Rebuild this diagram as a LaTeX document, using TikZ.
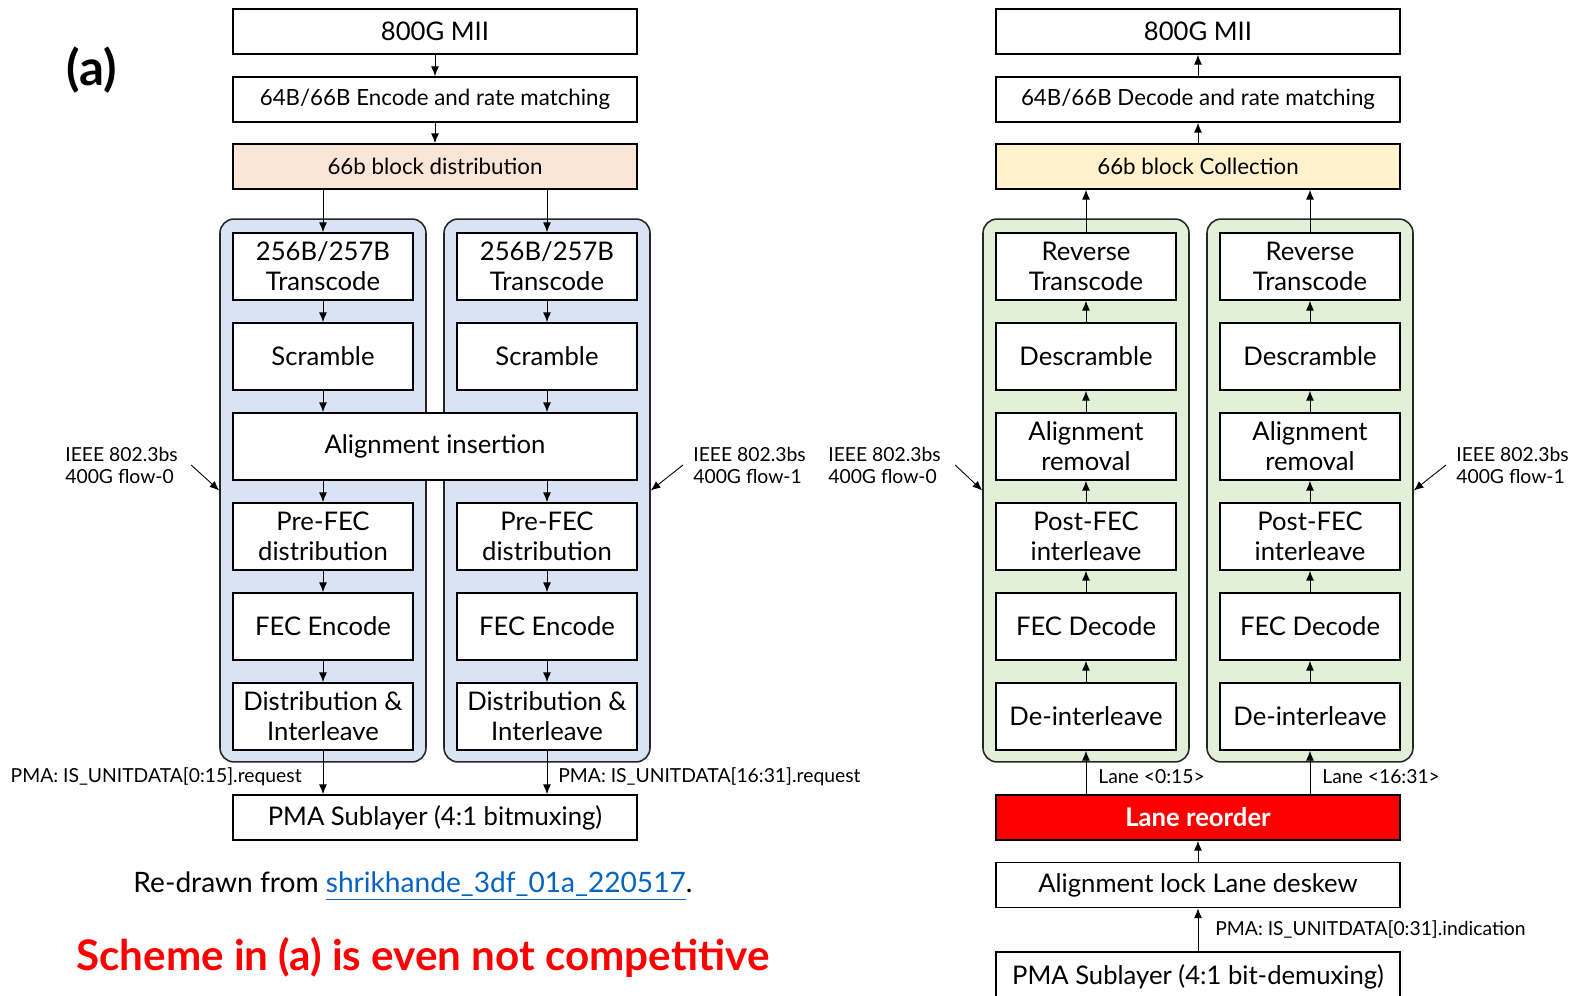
\documentclass[tikz,border=0pt]{standalone}
\usepackage{fontspec}
\setmainfont{Lato}
\usetikzlibrary{arrows.meta}
\definecolor{distfill}{HTML}{FBE5D6}
\definecolor{collfill}{HTML}{FFF2CC}
\definecolor{txfill}{HTML}{DAE3F3}
\definecolor{rxfill}{HTML}{E2F0D9}
\definecolor{linkblue}{HTML}{0563C1}
\begin{document}
\begin{tikzpicture}[x=0.02cm, y=-0.02cm]
    \tikzset{blk/.style={draw, line width=1pt, fill=white, inner sep=0pt,
            align=center, font=\fontsize{14.6}{17}\selectfont},
        wideblk/.style={blk, minimum width=8.08cm, minimum height=0.9cm},
        colblk/.style={blk, minimum width=3.6cm, minimum height=1.34cm},
        smalltext/.style={font=\fontsize{12.7}{15}\selectfont},
        lane/.style={draw=black!85, line width=0.9pt, rounded corners=0.28cm,
            minimum width=4.12cm, minimum height=10.86cm},
        flow/.style={-{Latex[length=5.5pt, width=4.5pt]}, line width=0.5pt},
        note/.style={font=\fontsize{11}{12.5}\selectfont, align=left, inner sep=0pt}
    }
    \useasboundingbox (0,0) rectangle (1572,996);
    \node[font=\fontsize{28}{32}\selectfont\bfseries] (tag) at (92,70) {(a)};
    % transmit side
    \node[wideblk] (txmii) at (435,31.5) {800G MII};
    \node[wideblk, smalltext] (txenc) at (435,99.5) {64B/66B Encode and rate matching};
    \node[wideblk, smalltext, fill=distfill] (txdist) at (435,166.5) {66b block distribution};
    \draw[flow] (txmii) -- (txenc);
    \draw[flow] (txenc) -- (txdist);
    \node[lane, fill=txfill] (txA) at (323,490.5) {};
    \node[lane, fill=txfill] (txB) at (547,490.5) {};
    \node[wideblk, minimum height=1.34cm] (txalign) at (435,446.5) {Alignment insertion};
    \node[wideblk] (txpma) at (435,817.5) {PMA Sublayer (4:1 bitmuxing)};
    \foreach \col/\xc in {A/323, B/547} {
        \node[colblk] (trans\col) at (\xc,266.5) {256B/257B\\Transcode};
        \node[colblk] (scr\col) at (\xc,356.5) {Scramble};
        \node[colblk] (pre\col) at (\xc,536.5) {Pre-FEC\\distribution};
        \node[colblk] (fec\col) at (\xc,626.5) {FEC Encode};
        \node[colblk] (dil\col) at (\xc,716.5) {Distribution \&\\Interleave};
        \draw[flow] (txdist.south -| trans\col.north) -- (trans\col.north);
        \draw[flow] (trans\col) -- (scr\col);
        \draw[flow] (scr\col.south) -- (scr\col.south |- txalign.north);
        \draw[flow] (pre\col.north |- txalign.south) -- (pre\col.north);
        \draw[flow] (pre\col) -- (fec\col);
        \draw[flow] (fec\col) -- (dil\col);
        \draw[flow] (dil\col.south) -- (dil\col.south |- txpma.north);
    }
    \node[note, anchor=east] (reqA) at (302,777) {PMA: IS\_UNITDATA[0:15].request};
    \node[note, anchor=west] (reqB) at (558,777) {PMA: IS\_UNITDATA[16:31].request};
    \node[note, anchor=west] (txflowA) at (65,465) {IEEE 802.3bs\\400G flow-0};
    \node[note, anchor=west] (txflowB) at (693,465) {IEEE 802.3bs\\400G flow-1};
    \draw[flow] ([xshift=0.26cm]txflowA.east) -- (txA.west);
    \draw[flow] ([xshift=-0.2cm]txflowB.west) -- (txB.east);
    \node[font=\fontsize{16}{19}\selectfont] (src) at (413,886)
        {Re-drawn from \textcolor{linkblue}{\underline{shrikhande\_3df\_01a\_220517}}.};
    \node[anchor=west, inner sep=0pt, text=red, font=\fontsize{24}{28}\selectfont\bfseries]
        (remark) at (76,957) {Scheme in (a) is even not competitive};
    % receive side
    \node[wideblk] (rxmii) at (1198,31.5) {800G MII};
    \node[wideblk, smalltext] (rxdec) at (1198,99.5) {64B/66B Decode and rate matching};
    \node[wideblk, smalltext, fill=collfill] (rxcoll) at (1198,166.5) {66b block Collection};
    \draw[flow] (rxdec) -- (rxmii);
    \draw[flow] (rxcoll) -- (rxdec);
    \node[lane, fill=rxfill] (rxA) at (1086,490.5) {};
    \node[lane, fill=rxfill] (rxB) at (1310,490.5) {};
    \node[wideblk, fill=red, text=white, font=\fontsize{14.6}{17}\selectfont\bfseries]
        (reorder) at (1198,817.5) {Lane reorder};
    \node[wideblk] (deskew) at (1198,885) {Alignment lock Lane deskew};
    \node[wideblk, minimum height=1cm] (rxpma) at (1198,977) {PMA Sublayer (4:1 bit-demuxing)};
    \foreach \col/\xc in {A/1086, B/1310} {
        \node[colblk] (rtrans\col) at (\xc,266.5) {Reverse\\Transcode};
        \node[colblk] (dscr\col) at (\xc,356.5) {Descramble};
        \node[colblk] (ralign\col) at (\xc,446.5) {Alignment\\removal};
        \node[colblk] (post\col) at (\xc,536.5) {Post-FEC\\interleave};
        \node[colblk] (dec\col) at (\xc,626.5) {FEC Decode};
        \node[colblk] (deil\col) at (\xc,716.5) {De-interleave};
        \draw[flow] (rtrans\col.north) -- (rtrans\col.north |- rxcoll.south);
        \draw[flow] (dscr\col) -- (rtrans\col);
        \draw[flow] (ralign\col) -- (dscr\col);
        \draw[flow] (post\col) -- (ralign\col);
        \draw[flow] (dec\col) -- (post\col);
        \draw[flow] (deil\col) -- (dec\col);
        \draw[flow] (reorder.north -| deil\col.south) -- (deil\col.south);
    }
    \draw[flow] (deskew) -- (reorder);
    \draw[flow] (rxpma) -- (deskew);
    \node[note, anchor=west] (laneA) at (1098,777) {Lane <0:15>};
    \node[note, anchor=west] (laneB) at (1322,777) {Lane <16:31>};
    \node[note, anchor=west] (ind) at (1215,929) {PMA: IS\_UNITDATA[0:31].indication};
    \node[note, anchor=west] (rxflowA) at (828,465) {IEEE 802.3bs\\400G flow-0};
    \node[note, anchor=west] (rxflowB) at (1456,465) {IEEE 802.3bs\\400G flow-1};
    \draw[flow] ([xshift=0.28cm]rxflowA.east) -- (rxA.west);
    \draw[flow] ([xshift=-0.2cm]rxflowB.west) -- (rxB.east);
\end{tikzpicture}
\end{document}
